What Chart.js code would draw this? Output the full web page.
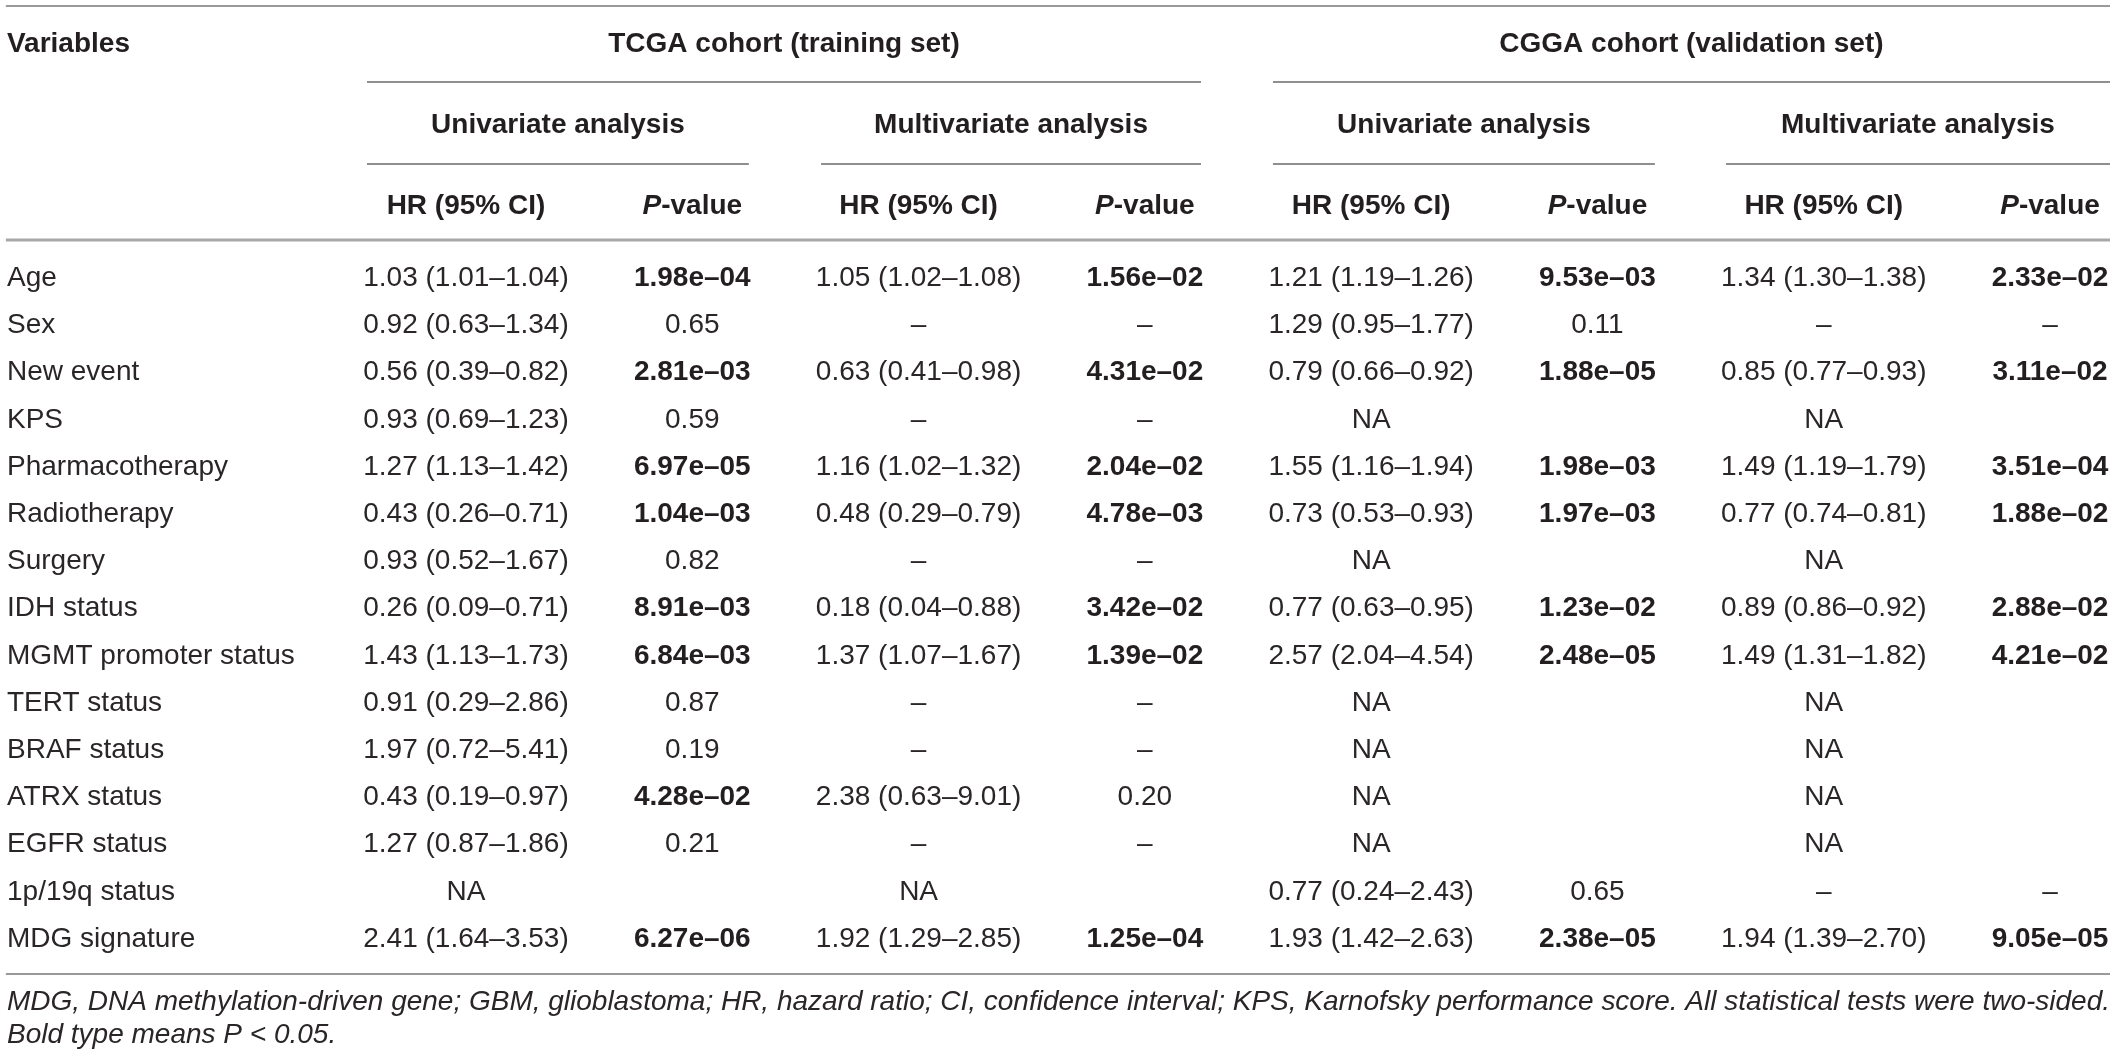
<!DOCTYPE html>
<html>
<head>
<meta charset="utf-8">
<script src="https://cdn.jsdelivr.net/npm/chart.js@4/dist/chart.umd.min.js"></script>
<style>
html,body{margin:0;padding:0;background:#fff;}
#wrap{width:2118px;height:1059px;position:relative;}
</style>
</head>
<body>
<div id="wrap"><canvas id="c"></canvas></div>
<script>
// ---------- DATA ----------
const rowLabels = ['Age','Sex','New event','KPS','Pharmacotherapy','Radiotherapy','Surgery','IDH status','MGMT promoter status','TERT status','BRAF status','ATRX status','EGFR status','1p/19q status','MDG signature'];

const tcgaUniHR = ['1.03 (1.01–1.04)','0.92 (0.63–1.34)','0.56 (0.39–0.82)','0.93 (0.69–1.23)','1.27 (1.13–1.42)','0.43 (0.26–0.71)','0.93 (0.52–1.67)','0.26 (0.09–0.71)','1.43 (1.13–1.73)','0.91 (0.29–2.86)','1.97 (0.72–5.41)','0.43 (0.19–0.97)','1.27 (0.87–1.86)','NA','2.41 (1.64–3.53)'];
const tcgaUniP = ['1.98e–04','0.65','2.81e–03','0.59','6.97e–05','1.04e–03','0.82','8.91e–03','6.84e–03','0.87','0.19','4.28e–02','0.21','','6.27e–06'];
const tcgaMultiHR = ['1.05 (1.02–1.08)','–','0.63 (0.41–0.98)','–','1.16 (1.02–1.32)','0.48 (0.29–0.79)','–','0.18 (0.04–0.88)','1.37 (1.07–1.67)','–','–','2.38 (0.63–9.01)','–','NA','1.92 (1.29–2.85)'];
const tcgaMultiP = ['1.56e–02','–','4.31e–02','–','2.04e–02','4.78e–03','–','3.42e–02','1.39e–02','–','–','0.20','–','','1.25e–04'];
const cggaUniHR = ['1.21 (1.19–1.26)','1.29 (0.95–1.77)','0.79 (0.66–0.92)','NA','1.55 (1.16–1.94)','0.73 (0.53–0.93)','NA','0.77 (0.63–0.95)','2.57 (2.04–4.54)','NA','NA','NA','NA','0.77 (0.24–2.43)','1.93 (1.42–2.63)'];
const cggaUniP = ['9.53e–03','0.11','1.88e–05','','1.98e–03','1.97e–03','','1.23e–02','2.48e–05','','','','','0.65','2.38e–05'];
const cggaMultiHR = ['1.34 (1.30–1.38)','–','0.85 (0.77–0.93)','NA','1.49 (1.19–1.79)','0.77 (0.74–0.81)','NA','0.89 (0.86–0.92)','1.49 (1.31–1.82)','NA','NA','NA','NA','–','1.94 (1.39–2.70)'];
const cggaMultiP = ['2.33e–02','–','3.11e–02','','3.51e–04','1.88e–02','','2.88e–02','4.21e–02','','','','','–','9.05e–05'];

const firstHeader = 'Variables';
const cohortLabels = ['TCGA cohort (training set)','CGGA cohort (validation set)'];
const analysisLabels = ['Univariate analysis','Multivariate analysis','Univariate analysis','Multivariate analysis'];
const columnHeaders = ['HR (95% CI)','P-value','HR (95% CI)','P-value','HR (95% CI)','P-value','HR (95% CI)','P-value'];
const footnotes = ['MDG, DNA methylation-driven gene; GBM, glioblastoma; HR, hazard ratio; CI, confidence interval; KPS, Karnofsky performance score. All statistical tests were two-sided.',
                   'Bold type means P < 0.05.'];

// ---------- LAYOUT (in scale units) ----------
const valueCols = [tcgaUniHR, tcgaUniP, tcgaMultiHR, tcgaMultiP, cggaUniHR, cggaUniP, cggaMultiHR, cggaMultiP];
const pCol = [false,true,false,true,false,true,false,true];
const XL = -2.0284, XR = 7.265;           // table left / right edge
const cohortSpans = [[-0.4375,3.248],[3.566,7.265]];
const analysisSpans = [[-0.4375,1.25],[1.569,3.248],[3.566,5.254],[5.568,7.265]];
const Y = {h1:-4.958, h2:-3.242, h3:-1.525, top:-5.932, l1:-4.322, l2:-2.585, hb:-0.975, bot:14.576, f1:15.339, f2:16.038};

const INK = '#231f20';
const FONT = '"Liberation Sans", Arial, Helvetica, sans-serif';

// datasets: one per column, each point is a cell
const datasets = [];
datasets.push({label:'Variables', texts: rowLabels, align:'left', data: rowLabels.map((_, i) => ({x: XL, y: i}))});
valueCols.forEach((col, c) => {
  datasets.push({label:'col'+c, texts: col, align:'center', isP: pCol[c], data: col.map((_, i) => ({x: c, y: i}))});
});
datasets.forEach(d => { d.pointRadius = 0; d.pointHoverRadius = 0; d.showLine = false; });

function isBoldP(s){
  if (!s || s === '–') return false;
  const v = parseFloat(s.replace('–','-'));
  return !isNaN(v) && v < 0.05;
}

const tablePlugin = {
  id: 'tableText',
  afterDatasetsDraw(chart){
    const ctx = chart.ctx;
    const xs = chart.scales.x, ys = chart.scales.y;
    const px = v => xs.getPixelForValue(v), py = v => ys.getPixelForValue(v);
    ctx.save();
    // rules
    function hline(x0, x1, y, w, col){
      ctx.beginPath(); ctx.strokeStyle = col; ctx.lineWidth = w;
      ctx.moveTo(px(x0), py(y)); ctx.lineTo(px(x1), py(y)); ctx.stroke();
    }
    hline(XL - 0.005, XR, Y.top, 2, '#9a9a9a');
    cohortSpans.forEach(s => hline(s[0], s[1], Y.l1, 2, '#8f8f8f'));
    analysisSpans.forEach(s => hline(s[0], s[1], Y.l2, 2, '#8f8f8f'));
    hline(XL - 0.005, XR, Y.hb, 3, '#a8a8a8');
    hline(XL - 0.005, XR, Y.bot, 2, '#999999');

    ctx.fillStyle = INK;
    ctx.textBaseline = 'alphabetic';
    // headers
    ctx.font = 'bold 28px ' + FONT;
    ctx.textAlign = 'left';
    ctx.fillText(firstHeader, px(XL), py(Y.h1));
    ctx.textAlign = 'center';
    cohortSpans.forEach((s, i) => ctx.fillText(cohortLabels[i], px((s[0]+s[1])/2), py(Y.h1)));
    analysisSpans.forEach((s, i) => ctx.fillText(analysisLabels[i], px((s[0]+s[1])/2), py(Y.h2)));
    columnHeaders.forEach((t, c) => {
      const cx = px(c), cy = py(Y.h3);
      if (t.startsWith('P-')) {
        ctx.font = 'italic bold 28px ' + FONT;
        const w1 = ctx.measureText('P').width;
        ctx.font = 'bold 28px ' + FONT;
        const rest = t.slice(1);
        const w2 = ctx.measureText(rest).width;
        const x0 = cx - (w1 + w2) / 2;
        ctx.textAlign = 'left';
        ctx.font = 'italic bold 28px ' + FONT;
        ctx.fillText('P', x0, cy);
        ctx.font = 'bold 28px ' + FONT;
        ctx.fillText(rest, x0 + w1, cy);
        ctx.textAlign = 'center';
      } else {
        ctx.font = 'bold 28px ' + FONT;
        ctx.fillText(t, cx, cy);
      }
    });
    // cells, at the positions of the dataset elements
    ctx.fillStyle = '#2a2627';
    chart.data.datasets.forEach((ds, di) => {
      const meta = chart.getDatasetMeta(di);
      meta.data.forEach((el, i) => {
        const t = ds.texts[i];
        if (!t) return;
        const bold = ds.isP && isBoldP(t);
        ctx.fillStyle = bold ? INK : '#2a2627';
        ctx.font = (bold ? 'bold ' : '') + '28px ' + FONT;
        ctx.textAlign = ds.align;
        ctx.fillText(t, el.x, el.y);
      });
    });
    // footnotes
    ctx.fillStyle = '#2a2627';
    ctx.textAlign = 'left';
    ctx.font = 'italic 28px ' + FONT;
    const maxW = px(XR) - px(XL);
    ctx.fillText(footnotes[0], px(XL), py(Y.f1), maxW);
    ctx.fillText(footnotes[1], px(XL), py(Y.f2));
    ctx.restore();
  }
};

new Chart(document.getElementById('c'), {
  type: 'scatter',
  data: { datasets },
  options: {
    responsive: true,
    maintainAspectRatio: false,
    animation: false,
    devicePixelRatio: 1,
    layout: { padding: 0 },
    events: [],
    plugins: { legend: {display:false}, tooltip: {enabled:false}, title: {display:false} },
    scales: {
      x: { type:'linear', min:-2.0593, max:7.3004, display:false },
      y: { type:'linear', reverse:true, min:-6.059, max:16.377, display:false }
    }
  },
  plugins: [tablePlugin]
});
</script>
</body>
</html>
